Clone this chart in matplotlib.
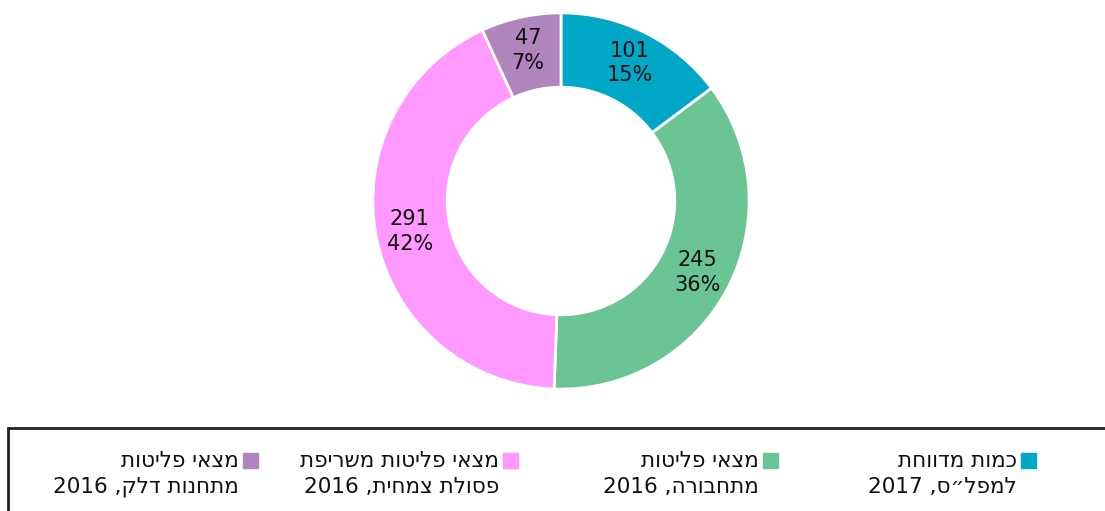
import re
import numpy as np
import matplotlib.pyplot as plt
from matplotlib.patches import Rectangle

plt.rcParams['font.family'] = ['DejaVu Sans']

# data
values = [101, 245, 291, 47]
percents = [15, 36, 42, 7]
colors = ['#00A7C7', '#6BC494', '#FF99FF', '#B084BC']
labels = ['כמות מדווחת\nלמפל״ס, 2017',
          'מצאי פליטות\nמתחבורה, 2016',
          'מצאי פליטות משריפת\nפסולת צמחית, 2016',
          'מצאי פליטות\nמתחנות דלק, 2016']


def visual(text):
    # matplotlib has no bidi: reorder each line for right-to-left display
    out = []
    for line in text.split('\n'):
        runs = re.findall(r'\d+|\D+', line)
        runs = [r if r.isdigit() else r[::-1] for r in runs]
        out.append(''.join(runs[::-1]))
    return '\n'.join(out)


W, H = 1105, 511
fig = plt.figure(figsize=(W / 100, H / 100), dpi=100)

# donut
cx, cy, R = 561, 310, 190
ax = fig.add_axes([(cx - R) / W, (cy - R) / H, 2 * R / W, 2 * R / H])
wedges, _ = ax.pie(values, colors=colors, startangle=90, counterclock=False,
                   wedgeprops=dict(width=0.395, edgecolor='white', linewidth=2))
ax.set_xlim(-1.01, 1.01)
ax.set_ylim(-1.01, 1.01)
ax.set_aspect('equal')

total = sum(values)
start = 90.0
for v, p in zip(values, percents):
    ang = np.deg2rad(start - v / total * 180)
    ax.text(0.82 * np.cos(ang), 0.82 * np.sin(ang), f'{v}\n{p}%',
            ha='center', va='center', fontsize=15, color='#111111',
            linespacing=1.3)
    start -= v / total * 360

# legend box
fig.patches.append(Rectangle((8 / W, -0.1), 1.2, (511 - 428) / H + 0.1,
                             transform=fig.transFigure, fill=False,
                             edgecolor='#222222', linewidth=2))

# legend entries (right to left)
marker_x = [1021, 763, 503, 243]
for mx, col, lab in zip(marker_x, colors, labels):
    fig.patches.append(Rectangle((mx / W, (H - 468) / H), 15 / W, 15 / H,
                                 transform=fig.transFigure, color=col))
    fig.text((mx - 4) / W, (H - 474) / H, visual(lab), ha='right', va='center',
             multialignment='right', fontsize=15.5, color='#111111',
             linespacing=1.38)

plt.savefig('out.png', dpi=100)
